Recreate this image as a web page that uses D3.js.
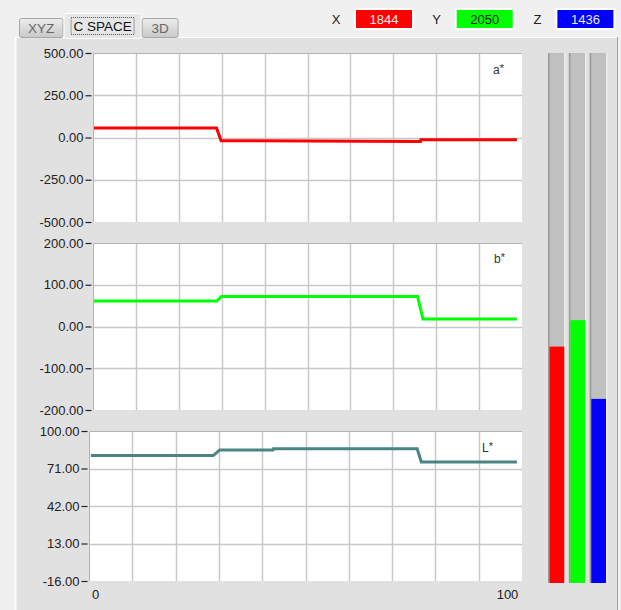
<!DOCTYPE html>
<html>
<head>
<meta charset="utf-8">
<script src="https://cdn.jsdelivr.net/npm/d3@7"></script>
<style>
  body { margin: 0; background: #f0f0f0; }
  svg { display: block; font-family: "Liberation Sans", Arial, sans-serif; }
  .tick text { font-size: 13px; fill: #222; }
</style>
</head>
<body>
<div class="chart"></div>
<script>
// tabs and channel readouts
const tabs = ['XYZ', 'C SPACE', '3D']
const channels = ['X', 'Y', 'Z']
const counts = [1844, 2050, 1436]
const countMax = 4095

// tick labels
const xTicks = [0, 100]
const aTicks = [500, 250, 0, -250, -500]
const bTicks = [200, 100, 0, -100, -200]
const lTicks = [100, 71, 42, 13, -16]

// series (time, value)
const aTime = [-1, 29.5, 30.6, 79.0, 79.1, 102.4]
const aVal  = [56, 56, -19, -23, -14, -14]
const bTime = [-1, 29.6, 30.7, 78.3, 79.6, 102.4]
const bVal  = [61, 61, 72, 72, 18, 18]
const lTime = [-1, 28.7, 30.3, 43.2, 43.3, 78.2, 79.2, 102.4]
const lVal  = [81, 81, 85.4, 85.4, 86.2, 86.2, 76, 76]

const W = 621, H = 610

const svg = d3.select('.chart').append('svg')
  .attr('width', W).attr('height', H)

// background + tab panel
svg.append('rect').attr('width', W).attr('height', H).attr('fill', '#f0f0f0')
svg.append('rect').attr('x', 15).attr('y', 37).attr('width', 602).attr('height', H - 37)
  .attr('fill', '#e1e1e1')
svg.append('line').attr('x1', 15.5).attr('x2', 15.5).attr('y1', 37).attr('y2', H)
  .attr('stroke', '#ffffff').attr('stroke-width', 2)
svg.append('line').attr('x1', 15).attr('x2', 617).attr('y1', 37.5).attr('y2', 37.5)
  .attr('stroke', '#ffffff')
svg.append('line').attr('x1', 617.5).attr('x2', 617.5).attr('y1', 37).attr('y2', H)
  .attr('stroke', '#a0a0a0')

const defs = svg.append('defs')
const tabGrad = defs.append('linearGradient').attr('id', 'tabGrad')
  .attr('x1', '0%').attr('x2', '0%').attr('y1', '0%').attr('y2', '100%')
tabGrad.append('stop').attr('offset', '0%').attr('stop-color', '#ededed')
tabGrad.append('stop').attr('offset', '100%').attr('stop-color', '#c8c8c8')

// tabs
const tabX = [19, 63.5, 141.7, 178.6]
tabs.forEach((t, i) => {
  const sel = t === 'C SPACE'
  const top = sel ? 13 : 18
  const g = svg.append('g')
  g.append('rect')
    .attr('x', tabX[i] + 0.5).attr('y', top + 0.5)
    .attr('width', tabX[i + 1] - tabX[i] - 1).attr('height', 37 - top + (sel ? 1 : 0))
    .attr('rx', 2)
    .attr('fill', sel ? '#e6e6e6' : 'url(#tabGrad)')
    .attr('stroke', sel ? '#ffffff' : '#a8a8a8')
  const cx = (tabX[i] + tabX[i + 1]) / 2
  g.append('text')
    .attr('x', cx).attr('y', sel ? 31 : 33)
    .attr('text-anchor', 'middle')
    .attr('font-size', 13.5)
    .attr('fill', sel ? '#111' : '#666')
    .text(t)
  if (sel) {
    g.append('rect')
      .attr('x', cx - 31.5).attr('y', 17.5).attr('width', 63).attr('height', 17)
      .attr('fill', 'none').attr('stroke', '#555').attr('stroke-dasharray', '1,1')
  }
})

// readout boxes
const boxColor = ['#ff0000', '#00ff00', '#0000ff']
const boxText = ['#ffe8e8', '#222222', '#e8e8ff']
channels.forEach((c, i) => {
  const bx = 354 + i * 100.7
  svg.append('text').attr('x', bx - 18).attr('y', 24)
    .attr('text-anchor', 'middle').attr('font-size', 13).attr('fill', '#222').text(c)
  svg.append('rect').attr('x', bx).attr('y', 8).attr('width', 60).attr('height', 22)
    .attr('fill', '#ffffff')
  svg.append('rect').attr('x', bx + 2).attr('y', 10).attr('width', 56).attr('height', 18)
    .attr('fill', boxColor[i])
  svg.append('text').attr('x', bx + 30).attr('y', 24)
    .attr('text-anchor', 'middle').attr('font-size', 13).attr('fill', boxText[i])
    .text(counts[i])
})

// chart panels
const x = d3.scaleLinear().domain([0, 100]).range([95, 507])

const panels = [
  { left: 93, top: 53, bottom: 222, ticks: aTicks, time: aTime, val: aVal, color: '#ff0000', name: 'a', lx: 493, ly: 74 },
  { left: 93, top: 243, bottom: 410, ticks: bTicks, time: bTime, val: bVal, color: '#00ff00', name: 'b', lx: 494, ly: 263 },
  { left: 89, top: 431, bottom: 581, ticks: lTicks, time: lTime, val: lVal, color: '#4a8484', name: 'L', lx: 482, ly: 452 }
]
const right = 522

panels.forEach((p, i) => {
  const y = d3.scaleLinear()
    .domain([d3.min(p.ticks), d3.max(p.ticks)])
    .range([p.bottom, p.top])
  const g = svg.append('g')
  const w = right - p.left, h = p.bottom - p.top

  g.append('rect').attr('x', p.left).attr('y', p.top).attr('width', w).attr('height', h)
    .attr('fill', '#ffffff')

  // grid
  const gx = d3.scaleLinear().domain([0, 10]).range([p.left, right])
  g.selectAll('.vg').data(d3.range(1, 10)).enter().append('line')
    .attr('x1', d => Math.round(gx(d)) + 0.5).attr('x2', d => Math.round(gx(d)) + 0.5)
    .attr('y1', p.top).attr('y2', p.bottom)
    .attr('stroke', '#c8c8c8').attr('stroke-width', 1.5)
  g.selectAll('.hg').data(p.ticks.slice(1, -1)).enter().append('line')
    .attr('x1', p.left).attr('x2', right)
    .attr('y1', d => Math.round(y(d)) + 0.5).attr('y2', d => Math.round(y(d)) + 0.5)
    .attr('stroke', '#c8c8c8').attr('stroke-width', 1.5)

  // frame edges
  g.append('path')
    .attr('d', `M${p.left + 0.5},${p.bottom}V${p.top + 0.5}H${right}`)
    .attr('fill', 'none').attr('stroke', '#b4b4b4')

  // series
  const clipId = 'clip' + i
  defs.append('clipPath').attr('id', clipId).append('rect')
    .attr('x', p.left + 1).attr('y', p.top).attr('width', w - 1).attr('height', h)
  const pts = p.time.map((t, k) => [t, p.val[k]])
  g.append('path')
    .attr('clip-path', `url(#${clipId})`)
    .attr('d', d3.line().x(d => x(d[0])).y(d => y(d[1]))(pts))
    .attr('fill', 'none').attr('stroke', p.color).attr('stroke-width', 3)

  // y axis (hyphen minus, like the original)
  const ax = g.append('g')
    .attr('transform', `translate(${p.left - 1.5},0)`)
    .call(d3.axisLeft(y).tickValues(p.ticks).tickSize(6).tickPadding(2)
      .tickFormat(d => d.toFixed(2)))
  ax.select('.domain').remove()
  ax.selectAll('.tick line').attr('stroke', '#222').attr('stroke-width', 1.2)

  // label
  const lab = g.append('text').attr('x', p.lx).attr('y', p.ly)
    .attr('font-size', 12).attr('fill', '#333')
  lab.append('tspan').text(p.name)
  lab.append('tspan').attr('dy', -2).attr('font-size', 11).text('*')
})

// x axis labels
const xa = svg.append('g').attr('transform', 'translate(0,590)')
  .call(d3.axisBottom(x).tickValues(xTicks).tickSize(0).tickPadding(0).tickFormat(d => String(d)))
xa.select('.domain').remove()

// level bars
const barX = d3.scaleBand().domain(channels).range([548, 606]).paddingInner(0.22)
const barY = d3.scaleLinear().domain([0, countMax]).range([583, 58])
channels.forEach((c, i) => {
  const bx = barX(c), bw = barX.bandwidth()
  svg.append('rect').attr('x', bx).attr('y', 53).attr('width', bw)
    .attr('height', barY(0) - 53).attr('fill', '#c0c0c0')
  svg.append('rect').attr('x', bx).attr('y', 53).attr('width', 1.5)
    .attr('height', barY(0) - 53).attr('fill', '#9a9a9a')
  svg.append('rect').attr('x', bx + bw).attr('y', 53).attr('width', 1.5)
    .attr('height', barY(0) - 53).attr('fill', '#ececec')
  svg.append('rect').attr('x', bx + 1.5).attr('y', barY(counts[i])).attr('width', bw - 1.5)
    .attr('height', barY(0) - barY(counts[i])).attr('fill', boxColor[i])
})
</script>
</body>
</html>
